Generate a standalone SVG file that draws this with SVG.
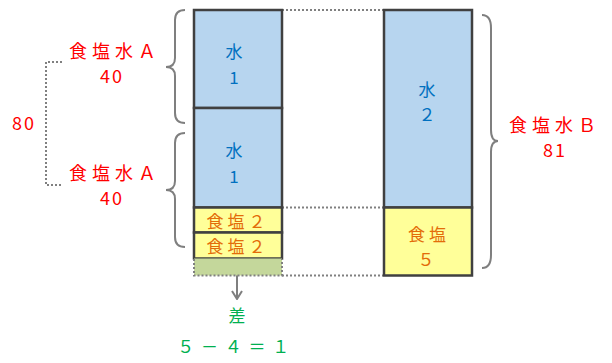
<svg xmlns="http://www.w3.org/2000/svg" width="612" height="363" viewBox="0 0 612 363">
<style>
.box{stroke:#404040;stroke-width:2.5}
.water{fill:#B7D5EF}
.salt{fill:#FFFF99}
.dot{fill:none;stroke:#808080;stroke-width:2;stroke-dasharray:2 2}
.brace{fill:none;stroke:#7F7F7F;stroke-width:2}
text{font-family:"Noto Sans CJK JP","DejaVu Sans",sans-serif;text-anchor:middle;dominant-baseline:central}
.red{fill:#FF0000;font-size:18px;letter-spacing:5px}
.num{letter-spacing:2px}
.blue{fill:#0070C0;font-size:17px}
.org{fill:#E36C09;font-size:17px;letter-spacing:4px}
.grn{fill:#00B050;font-size:17px}
</style>
<defs>
<marker id="arr" viewBox="0 0 10 12" refX="9" refY="6" markerWidth="10" markerHeight="12" markerUnits="userSpaceOnUse" orient="auto">
<path d="M1,1 L9,6 L1,11" fill="none" stroke="#7F7F7F" stroke-width="2"/>
</marker>
</defs>
<g id="connectors">
<path class="dot" d="M282,10 H383"/>
<path class="dot" d="M282,207.5 H383"/>
<path class="dot" d="M282,275.5 H383"/>
<path class="dot" d="M62,62 H46 V185 H62"/>
<path class="brace" d="M185,10 Q175,10 175,20 V58 Q175,67 166,67 Q175,67 175,76 V113 Q175,123 185,123"/>
<path class="brace" d="M185,133 Q175,133 175,143 V181 Q175,190 166,190 Q175,190 175,199 V237 Q175,247 185,247"/>
<path class="brace" d="M482,15 Q491,15 491,28 V130 Q491,141 498,141 Q491,141 491,152 V255 Q491,268 482,268"/>
<path d="M237,268 V299" stroke="#7F7F7F" stroke-width="2" fill="none" marker-end="url(#arr)"/>
</g>
<g id="water1a">
<rect class="box water" x="194" y="10" width="88" height="98"/>
<text class="blue" x="234" y="50">水</text>
<text class="blue" x="234" y="76">1</text>
</g>
<g id="water1b">
<rect class="box water" x="194" y="108" width="88" height="99.5"/>
<text class="blue" x="234" y="149">水</text>
<text class="blue" x="234" y="175">1</text>
</g>
<g id="salt2a">
<rect class="box salt" x="194" y="207.5" width="88" height="25"/>
<text class="org" x="238" y="220">食塩２</text>
</g>
<g id="salt2b">
<rect class="box salt" x="194" y="232.5" width="88" height="26"/>
<text class="org" x="238" y="245.5">食塩２</text>
</g>
<g id="diff">
<rect x="194" y="258.5" width="88" height="17" fill="#C4D79B"/>
<path class="dot" stroke="#404040" d="M194,259 V275.5 H282 V259"/>
</g>
<g id="water2">
<rect class="box water" x="384" y="10" width="88" height="197.5"/>
<text class="blue" x="427" y="88">水</text>
<text class="blue" x="427" y="113">２</text>
</g>
<g id="salt5">
<rect class="box salt" x="384" y="207.5" width="88" height="68"/>
<text class="org" x="429" y="233">食塩</text>
<text class="org" x="428" y="258">５</text>
</g>
<g id="labelA1">
<text class="red" x="115" y="50">食塩水Ａ</text>
<text class="red num" x="112" y="75">40</text>
</g>
<g id="labelA2">
<text class="red" x="115" y="172">食塩水Ａ</text>
<text class="red num" x="112" y="197">40</text>
</g>
<g id="label80">
<text class="red num" x="24" y="122">80</text>
</g>
<g id="labelB">
<text class="red" x="555" y="124">食塩水Ｂ</text>
<text class="red num" x="555" y="149">81</text>
</g>
<g id="labelDiff">
<text class="grn" x="237" y="314">差</text>
<text class="grn" x="234" y="345" letter-spacing="1.5" xml:space="preserve">５ － ４ ＝ １</text>
</g>
</svg>
